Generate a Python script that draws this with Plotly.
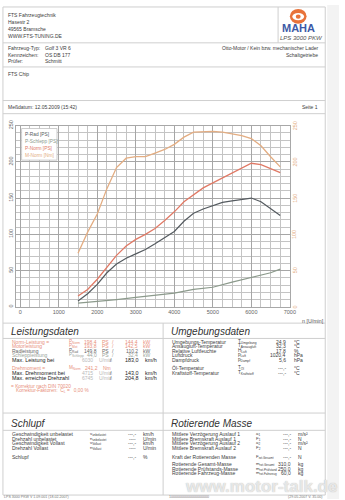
import plotly.graph_objects as go

# ---------------- data ----------------
rpm = [1500, 1750, 2000, 2250, 2500, 2750, 3000, 3250, 3500, 3750, 4000, 4250,
       4500, 4750, 5000, 5250, 5500, 5750, 6000, 6250, 6500, 6750]
m_norm = [74, 103, 128, 163, 192, 205, 207, 207, 212, 217, 224, 234,
          241, 242, 242, 241, 239, 236, 232, 222, 207, 193]
p_norm = [15, 24, 38, 55, 71, 84, 93, 100, 108, 119, 131, 145,
          155, 164, 171, 178, 185, 191, 198, 196, 191, 185]
p_rad = [8, 18, 31, 47, 59, 67, 73, 79, 87, 95, 104, 118,
         129, 135, 140, 144, 146, 148, 150, 145, 136, 126]
schlepp_rpm = [1500, 2000, 2500, 3000, 3500, 4000, 4500, 5000, 5500, 6000, 6500, 6750]
p_schlepp = [5, 7, 10, 13, 16, 19, 24, 27, 34, 41, 47, 52]

x_ticks = [0, 1000, 2000, 3000, 4000, 5000, 6000, 7000]
y_ticks = [0, 50, 100, 150, 200, 250]          # PS (left) and Nm (right), same scale

legend_names = ["P-Rad [PS]", "P-Schlepp [PS]", "P-Norm [PS]", "M-Norm [Nm]"]
legend_colors = ["#555b60", "#8c9a8c", "#e07a66", "#e3ad82"]

W, H = 345, 500
FONT = "Liberation Sans, Arial, sans-serif"
TXT = "#3c3c3c"
SALMON = "#e8907c"
GRAYT = "#9aa39a"
LINE = "#cfcfcf"


def px(x):
    return x / W


def py(y):
    return 1 - y / H


fig = go.Figure()

fig.add_trace(go.Scatter(x=rpm, y=m_norm, mode="lines", name=legend_names[3],
                         line=dict(color=legend_colors[3], width=1.3)))
fig.add_trace(go.Scatter(x=rpm, y=p_norm, mode="lines", name=legend_names[2],
                         line=dict(color=legend_colors[2], width=1.3)))
fig.add_trace(go.Scatter(x=rpm, y=p_rad, mode="lines", name=legend_names[0],
                         line=dict(color=legend_colors[0], width=1.2)))
fig.add_trace(go.Scatter(x=schlepp_rpm, y=p_schlepp, mode="lines", name=legend_names[1],
                         line=dict(color=legend_colors[1], width=1.2)))

ann = []


def txt(x, y, s, size=5.0, color=TXT, xa="left", italic=False, bold=False):
    if italic:
        s = "<i>" + s + "</i>"
    if bold:
        s = "<b>" + s + "</b>"
    ann.append(dict(x=px(x), y=py(y), xref="paper", yref="paper", text=s,
                    showarrow=False, xanchor=xa, yanchor="middle",
                    font=dict(size=size, color=color, family=FONT)))


# right-hand torque axis labels (Nm), placed through the y scale
for v in y_ticks:
    ann.append(dict(x=px(300), xref="paper", y=v, yref="y", text=str(v),
                    showarrow=False, xanchor="center", yanchor="middle", textangle=-90,
                    font=dict(size=5.5, color="#e3ad82", family=FONT)))

shapes = []


def hline(y, x0=3, x1=331, color=LINE, w=1):
    shapes.append(dict(type="line", xref="paper", yref="paper", x0=px(x0), x1=px(x1),
                       y0=py(y), y1=py(y), line=dict(color=color, width=w)))


def vline(x, y0, y1, color=LINE, w=1):
    shapes.append(dict(type="line", xref="paper", yref="paper", x0=px(x), x1=px(x),
                       y0=py(y0), y1=py(y1), line=dict(color=color, width=w)))


# page frame & separators
shapes.append(dict(type="rect", xref="paper", yref="paper", x0=px(333), x1=px(345),
                   y0=0, y1=1, fillcolor="#f3f3f3", line=dict(width=0)))
shapes.append(dict(type="rect", xref="paper", yref="paper", x0=px(3), x1=px(331),
                   y0=py(496), y1=py(2), fillcolor="rgba(0,0,0,0)",
                   line=dict(color=LINE, width=1)))
for yy in [38.3, 62.7, 96.7, 110, 322, 337.5, 413, 430.5]:
    hline(yy)
vline(283, 2, 38.3)
vline(166, 322, 496)

# header
txt(6, 10, "FTS Fahrzeugtechnik")
txt(6, 17, "Hasestr 2")
txt(6, 24, "49565 Bramsche")
txt(6, 31, "WWW.FTS-TUNING.DE")
txt(6, 43.5, "Fahrzeug-Typ:")
txt(44, 43.5, "Golf 3 VR 6")
txt(6, 50.5, "Kennzeichen:")
txt(44, 50.5, "OS DB 177")
txt(6, 57, "Prüfer:")
txt(44, 57, "Schmitt")
txt(326, 43.5, "Otto-Motor / Kein bzw. mechanischer Lader", xa="right")
txt(326, 50.5, "Schaltgetriebe", xa="right")
txt(6, 70, "FTS Chip")
txt(6, 103.5, "Meßdatum: 12.05.2009 (15:42)")
txt(326, 103.5, "Seite 1", xa="right")

# logo
shapes.append(dict(type="circle", xref="paper", yref="paper", x0=px(295), x1=px(312),
                   y0=py(19), y1=py(4), fillcolor="#e8733a", line=dict(width=0)))
shapes.append(dict(type="circle", xref="paper", yref="paper", x0=px(297.5), x1=px(309.5),
                   y0=py(15.5), y1=py(8), fillcolor="#ffffff", line=dict(width=0)))
shapes.append(dict(type="circle", xref="paper", yref="paper", x0=px(301), x1=px(306),
                   y0=py(14), y1=py(9.5), fillcolor="#e8733a", line=dict(width=0)))
txt(304, 23, "MAHA", size=11, color="#3d5aa6", xa="center", bold=True)
txt(307, 33.5, "LPS 3000 PKW", size=6, color="#555555", xa="center", italic=True)

# chart legend box
shapes.append(dict(type="rect", xref="paper", yref="paper", x0=px(22), x1=px(58),
                   y0=py(157), y1=py(125), fillcolor="#ffffff",
                   line=dict(color="#c0c0c0", width=0.8)))
for i, (n, c) in enumerate(zip(legend_names, legend_colors)):
    txt(23.5, 131.5 + i * 7, n, size=4.8, color=c)

txt(305, 319.5, "n [U/min]", size=5.3, color="#555555")

# Leistungsdaten
txt(9, 330, "Leistungsdaten", size=10, italic=True, color="#333333")
rows = [
    (341, "Norm-Leistung =", "P<sub>Norm</sub>", "198,4", "PS", "144,4", "kW", SALMON),
    (345.5, "Motorleistung", "P<sub>Mot</sub>", "193,8", "PS", "142,5", "kW", SALMON),
    (350, "Radleistung", "P<sub>Rad</sub>", "149,8", "PS", "110,2", "kW", "#666666"),
    (354.5, "Schleppleistung", "P<sub>Schlepp</sub>", "44,0", "PS", "32,4", "kW", GRAYT),
]
for y, lab, sym, v1, u1, v2, u2, col in rows:
    txt(10, y, lab, color=col)
    txt(68, y, sym, color=col, size=4.6)
    txt(100.5, y, v1, color=col, xa="right")
    txt(102, y, u1, color=col)
    txt(115, y, "/", color=col, xa="center")
    txt(142, y, v2, color=col, xa="right")
    txt(143.5, y, u2, color=col)

txt(10, 359.5, "Max. Leistung bei", color="#222222", size=5.4)
txt(97, 359.5, "6030", color="#b8b8b8", xa="right")
txt(99, 359.5, "U/min", color="#b8b8b8")
txt(113, 359.5, "/", xa="center")
txt(143, 359.5, "183,0", xa="right", size=5.4, color="#222222")
txt(146, 359.5, "km/h", size=5.4, color="#222222")

txt(10, 367.5, "Drehmoment =", color=SALMON)
txt(68, 367.5, "M<sub>Norm</sub>", color=SALMON, size=4.6)
txt(101.5, 367.5, "241,2", color=SALMON, xa="right")
txt(103, 367.5, "Nm", color=SALMON)

txt(10, 372.5, "Max. Drehmoment bei", color="#222222", size=5.4)
txt(97, 372.5, "4715", color="#b8b8b8", xa="right")
txt(99, 372.5, "U/min", color="#b8b8b8")
txt(113, 372.5, "/", xa="center")
txt(143, 372.5, "143,0", xa="right", size=5.4, color="#222222")
txt(146, 372.5, "km/h", size=5.4, color="#222222")

txt(10, 378, "Max. erreichte Drehzahl", color="#222222", size=5.4)
txt(97, 378, "6745", color="#b8b8b8", xa="right")
txt(99, 378, "U/min", color="#b8b8b8")
txt(113, 378, "/", xa="center")
txt(143, 378, "204,8", xa="right", size=5.4, color="#222222")
txt(146, 378, "km/h", size=5.4, color="#222222")

txt(9, 386, "= Korrektur nach DIN 70020", color=SALMON, size=4.8)
txt(14, 391, "Korrektur-Faktoren:  C<sub>L</sub> =   0,00 %", color=SALMON, size=4.8)

# Umgebungsdaten
txt(172, 330, "Umgebungsdaten", size=10, italic=True, color="#333333")
env = [
    (341, "Umgebungs-Temperatur", "T<sub>Umgebung</sub>", "24,9", "°C"),
    (345.5, "Ansaugluft-Temperatur", "T<sub>Ansaugluft</sub>", "32,3", "°C"),
    (350, "Relative Luftfeuchte", "H<sub>Luft</sub>", "17,8", "%"),
    (354.5, "Luftdruck", "p<sub>Luft</sub>", "1020,4", "hPa"),
    (359, "Dampfdruck", "p<sub>Dampf</sub>", "5,6", "hPa"),
    (367.5, "Öl-Temperatur", "T<sub>Öl</sub>", "---,-", "°C"),
    (372.5, "Kraftstoff-Temperatur", "T<sub>Kraftstoff</sub>", "---,-", "°C"),
]
for y, lab, sym, v, u in env:
    txt(173, y, lab)
    txt(240, y, sym, size=4.6)
    txt(293, y, v, xa="right")
    txt(297, y, u)

# Schlupf
txt(9, 424, "Schlupf", size=10, italic=True, color="#333333")
sl = [
    (434.5, "Geschwindigkeit unbelastet", "v<sub>unbelastet</sub>", "---,-", "km/h"),
    (439, "Drehzahl unbelastet", "n<sub>unbelastet</sub>", "----", "U/min"),
    (443.5, "Geschwindigkeit Vollast", "v<sub>Vollast</sub>", "---,-", "km/h"),
    (448, "Drehzahl Vollast", "n<sub>Vollast</sub>", "----", "U/min"),
    (457, "Schlupf", "", "---,-", "%"),
]
for y, lab, sym, v, u in sl:
    txt(10, y, lab)
    if sym:
        txt(90, y, sym, size=4.3)
    txt(140, y, v, xa="right")
    txt(143, y, u)

# Rotierende Masse
txt(172, 424, "Rotierende Masse", size=10, italic=True, color="#333333")
rm = [
    (434.5, "Mittlere Verzögerung Auslauf 1", "a<sub>1</sub>", "---,-", "m/s²"),
    (439, "Mittlere Bremskraft Auslauf 1", "F<sub>1</sub>", "---,-", "N"),
    (443.5, "Mittlere Verzögerung Auslauf 2", "a<sub>2</sub>", "---,-", "m/s²"),
    (448, "Mittlere Bremskraft Auslauf 2", "F<sub>2</sub>", "---,-", "N"),
    (457, "Kraft der Rotierenden Masse", "F<sub>rot.Gesamt</sub>", "---,-", "N"),
    (465, "Rotierende Gesamt-Masse", "m<sub>rot.Gesamt</sub>", "310,0", "kg"),
    (469.5, "Rotierende Prüfstands-Masse", "m<sub>rot.Prüfstand</sub>", "250,0", "kg"),
    (474, "Rotierende Fahrzeug-Masse", "m<sub>rot.Fahrzeug</sub>", "60,0", "kg"),
]
for y, lab, sym, v, u in rm:
    txt(173, y, lab)
    txt(258, y, sym, size=4.3)
    txt(298, y, v, xa="right")
    txt(301, y, u)

# footer
txt(2, 498, "LPS 3000 PKW V 1.09.001 (18.02.2007)", size=3.6, color="#777777")
txt(170, 498, "10000000000000000000", size=3.6, color="#777777")
txt(330, 498, "(29.05.2007 V. 35.00)", size=3.6, color="#777777", xa="right")

# watermark
ann.append(dict(x=px(345), y=py(487), xref="paper", yref="paper",
                text="<b>www.motor-talk.de</b>", showarrow=False, xanchor="right",
                yanchor="middle",
                font=dict(size=17, color="rgba(245,245,245,0.8)", family=FONT,
                          shadow="0px 0px 1px #9a9a9a")))

fig.update_layout(
    width=W, height=H,
    margin=dict(l=0, r=0, t=0, b=0),
    paper_bgcolor="#ffffff",
    plot_bgcolor="#ffffff",
    showlegend=False,
    font=dict(family=FONT, size=5.5, color="#555555"),
    xaxis=dict(domain=[px(16), px(295)], range=[-117, 7000],
               tickmode="linear", tick0=0, dtick=1000,
               showgrid=True, gridcolor="#a6a6a6", gridwidth=1,
               minor=dict(dtick=250, showgrid=True, gridcolor="#c4c4c4", gridwidth=1),
               zeroline=False, showline=True, linecolor="#a8a8a8", mirror=True,
               tickfont=dict(size=5.5, color="#666666")),
    yaxis=dict(domain=[py(305.5), py(122)], range=[0, 250],
               tickmode="linear", tick0=0, dtick=50,
               showgrid=True, gridcolor="#a6a6a6", gridwidth=1,
               minor=dict(dtick=10, showgrid=True, gridcolor="#c4c4c4", gridwidth=1),
               zeroline=False, showline=True, linecolor="#a8a8a8", mirror=True,
               tickangle=-90, tickfont=dict(size=5.5, color="#666666")),
    shapes=shapes,
    annotations=ann,
)

fig.write_html("out.html")
